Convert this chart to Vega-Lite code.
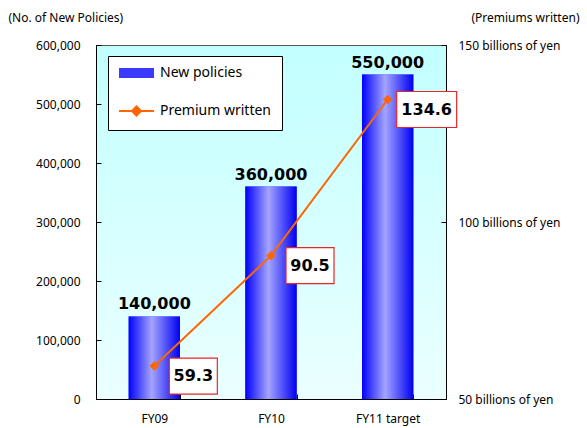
{
  "$schema": "https://vega.github.io/schema/vega-lite/v6.json",
  "autosize": {"type": "none"},
  "width": 350,
  "height": 354,
  "padding": {"left": 96, "top": 45, "right": 141, "bottom": 29},
  "background": "white",
  "config": {
    "view": {
      "stroke": "#555555",
      "strokeWidth": 1,
      "fill": {"gradient": "linear", "x1": 0, "y1": 0, "x2": 0, "y2": 1, "stops": [{"offset": 0, "color": "#c2ffff"}, {"offset": 1, "color": "#ebffff"}]}
    },
    "font": "Noto Sans",
    "axis": {"labelFont": "Noto Sans", "labelFontSize": 12, "labelColor": "#000000", "titleFont": "Noto Sans", "titleFontSize": 12, "titleFontWeight": "normal", "titleColor": "#000000", "domainColor": "#000000", "tickColor": "#000000", "grid": false},
    "legend": {"fillColor": "#ffffff", "strokeColor": "#000000", "symbolSize": 100}
  },
  "data": {
    "values": [
      {"year": "FY09", "policies": 140000, "premium": 59.3},
      {"year": "FY10", "policies": 360000, "premium": 90.5},
      {"year": "FY11 target", "policies": 550000, "premium": 134.6}
    ]
  },
  "encoding": {
    "x": {
      "field": "year", "type": "nominal", "sort": null,
      "scale": {"paddingInner": 0.56, "paddingOuter": 0.28},
      "axis": {"title": null, "labelAngle": 0, "tickBand": "extent", "tickSize": -5, "labelPadding": 19, "labelFontSize": 12, "domainColor": "#000000"}
    }
  },
  "layer": [
    {
      "encoding": {
        "y": {
          "field": "policies", "type": "quantitative",
          "scale": {"domain": [0, 600000], "nice": false},
          "axis": {"values": [0, 100000, 200000, 300000, 400000, 500000, 600000], "labelExpr": "format(datum.value, ',')", "tickSize": -5, "labelPadding": 21, "title": "(No. of New Policies)", "titleAngle": 0, "titleAlign": "left", "titleBaseline": "alphabetic", "titleX": -88, "titleY": -24}
        }
      },
      "layer": [
        {
          "mark": {"type": "bar"},
          "encoding": {
            "color": {
              "datum": "New policies", "type": "nominal",
              "scale": {"domain": ["New policies", "Premium written"], "range": ["#3a3aff", "#ff6600"]},
              "legend": {
                "orient": "none", "legendX": 12, "legendY": 11, "title": null,
                "fillColor": "#ffffff", "strokeColor": "#000000", "padding": 10,
                "symbolOffset": 0, "symbolSize": 100, "rowPadding": 22,
                "labelFont": "Noto Sans", "labelFontSize": 14, "labelColor": "#000000", "labelOffset": 28,
                "symbolStrokeWidth": 2,
                "encode": {
                  "legend": {
                    "update": {
                      "fill": {"value": "#ffffff"},
                      "stroke": {"value": "#000000"},
                      "strokeWidth": {"value": 1}
                    }
                  },
                  "symbols": {
                    "update": {
                      "size": {"value": 100},
                      "shape": {"signal": "datum.label === 'New policies' ? 'M-1.2,-1H5.8V1H-1.2Z' : 'M-1.2,0H5.8M2.3,-0.9L3.2,0L2.3,0.9L1.4,0Z'"},
                      "fill": {"signal": "datum.label === 'New policies' ? '#3a3aff' : '#ff6600'"},
                      "stroke": {"signal": "datum.label === 'New policies' ? null : '#ff6600'"},
                      "strokeWidth": {"signal": "datum.label === 'New policies' ? 0 : 2"},
                      "opacity": {"value": 1},
                      "fillOpacity": {"value": 1}
                    }
                  }
                }
              }
            }
          }
        },
        {
          "mark": {
            "type": "bar",
            "fill": {"gradient": "linear", "x1": 0, "y1": 0, "x2": 1, "y2": 0, "stops": [{"offset": 0, "color": "#0000ff"}, {"offset": 0.45, "color": "#a4a4ff"}, {"offset": 1, "color": "#0000f2"}]}
          }
        },
        {
          "mark": {"type": "text", "baseline": "bottom", "dy": -4, "font": "DejaVu Sans", "fontSize": 16, "fontWeight": "bold", "color": "#000000"},
          "encoding": {"text": {"field": "policies", "type": "quantitative", "format": ","}}
        }
      ]
    },
    {
      "encoding": {
        "y": {
          "field": "premium", "type": "quantitative",
          "scale": {"domain": [50, 150], "nice": false},
          "axis": {"orient": "right", "values": [50, 100, 150], "labelExpr": "datum.value + ' billions  of yen'", "labelAlign": "left", "tickSize": -5, "labelPadding": 17, "title": "(Premiums written)", "titleAngle": 0, "titleAlign": "right", "titleBaseline": "alphabetic", "titleX": 133, "titleY": -24}
        }
      },
      "layer": [
        {
          "mark": {"type": "line", "strokeWidth": 2, "point": {"shape": "diamond", "filled": true, "size": 90, "color": "#ff6600"}},
          "encoding": {"color": {"datum": "Premium written", "type": "nominal"}}
        },
        {
          "mark": {"type": "point", "filled": true, "fill": "#ffffff", "stroke": "#e8262a", "strokeWidth": 1.2, "opacity": 1, "xOffset": 39, "yOffset": 10},
          "encoding": {
            "shape": {"condition": {"test": "datum.premium > 100", "value": "M-1,-0.6H1V0.6H-1Z"}, "value": "M-1,-0.75H1V0.75H-1Z"},
            "size": {"condition": {"test": "datum.premium > 100", "value": 3600}, "value": 2304}
          }
        },
        {
          "mark": {"type": "text", "dx": 39, "dy": 10, "font": "DejaVu Sans", "fontSize": 16, "fontWeight": "bold", "color": "#000000"},
          "encoding": {"text": {"field": "premium", "type": "quantitative", "format": ".1f"}}
        }
      ]
    }
  ],
  "resolve": {"scale": {"y": "independent"}}
}
